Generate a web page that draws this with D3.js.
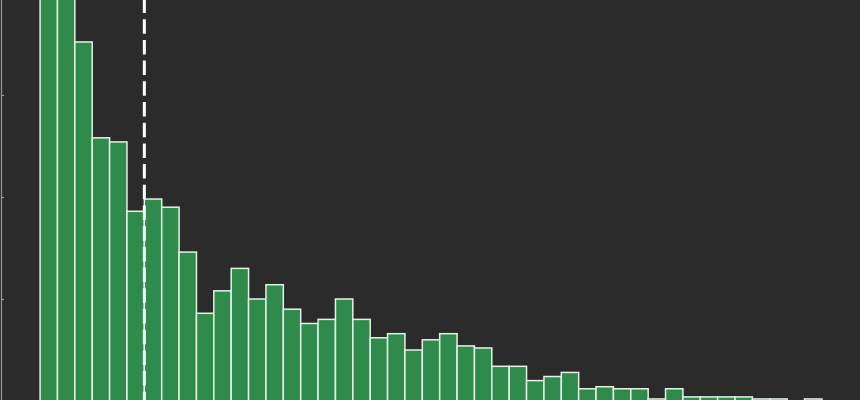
<!DOCTYPE html>
<html>
<head>
<meta charset="utf-8">
<script src="https://cdnjs.cloudflare.com/ajax/libs/d3/7.8.5/d3.min.js"></script>
<style>
  html, body { margin: 0; padding: 0; background: #2b2b2b; overflow: hidden; }
</style>
</head>
<body>
<script>
// bin edges in bin units (0 .. 45), counts
var binStart = 0;
var binWidth = 1;
var counts = [215, 240, 176, 129, 127, 93, 99, 95, 73, 43,
              54, 65, 50, 57, 45, 38, 40, 50, 40, 31,
              33, 25, 30, 33, 27, 26, 17, 17, 10, 12,
              14, 6, 7, 6, 6, 1, 6, 2, 2, 2,
              2, 1, 1, 0, 1];
var yTicks = [0, 50, 100, 150];
var markerValue = 6.0;

window.onload = function() {

  var width = 860;
  var height = 400;

  var bins = counts.map(function(c, i) {
    return {x0: binStart + i * binWidth, x1: binStart + (i + 1) * binWidth, count: c};
  });

  var svg = d3.select("body")
              .append("svg")
              .attr("width", width)
              .attr("height", height);

  svg.append("rect")
     .attr("width", width)
     .attr("height", height)
     .attr("fill", "#2b2b2b");

  // 5% margin each side like the original plot
  var xMin = binStart;
  var xMax = binStart + counts.length * binWidth;
  var pad = (xMax - xMin) * 0.05;
  var xScale = d3.scaleLinear()
                 .domain([xMin - pad, xMax + pad])
                 .range([1, 861]);

  var yScale = d3.scaleLinear()
                 .domain([0, 200])
                 .range([401, 401 - 200 * 2.04]);

  svg.selectAll("rect.bar")
     .data(bins)
     .enter()
     .append("rect")
     .attr("class", "bar")
     .attr("x", function(d) { return xScale(d.x0); })
     .attr("width", function(d) { return xScale(d.x1) - xScale(d.x0); })
     .attr("y", function(d) { return yScale(d.count); })
     .attr("height", function(d) { return yScale(0) - yScale(d.count); })
     .attr("fill", "#2e8b4b")
     .attr("stroke", "#e4f2e4")
     .attr("stroke-width", 1.5)
     .style("display", function(d) { return d.count > 0 ? null : "none"; });

  // dashed marker line
  svg.append("line")
     .attr("x1", xScale(markerValue))
     .attr("x2", xScale(markerValue))
     .attr("y1", yScale(200))
     .attr("y2", yScale(0))
     .attr("stroke", "#ffffff")
     .attr("stroke-width", 3)
     .attr("stroke-dasharray", "14.5,6.2")
     .attr("stroke-dashoffset", -5.5);

  // left spine with small ticks
  var yAxis = d3.axisLeft(yScale)
                .tickValues(yTicks)
                .tickSize(-3)
                .tickFormat("");

  var yGuide = svg.append("g")
                  .attr("transform", "translate(1,0)")
                  .call(yAxis);
  yGuide.select(".domain")
        .attr("stroke", "#9a9a9a")
        .attr("stroke-width", 1.2);
  yGuide.selectAll("line")
        .attr("stroke", "#9a9a9a")
        .attr("stroke-width", 1.2);
};
</script>
</body>
</html>
